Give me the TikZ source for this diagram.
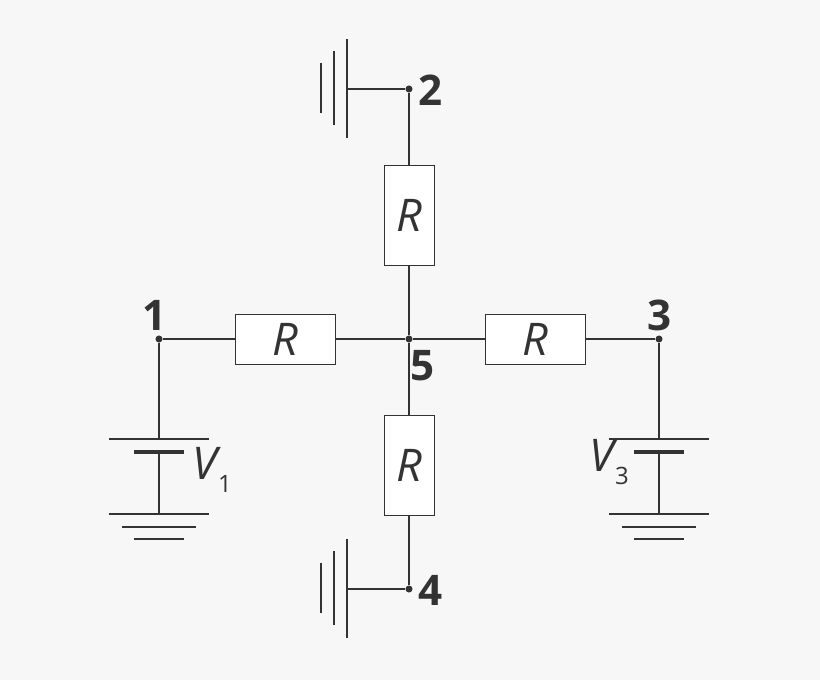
\documentclass[tikz,border=0pt]{standalone}
\usepackage{fontspec}
\setmainfont{Open Sans}
\usetikzlibrary{positioning}

\begin{document}
\begin{tikzpicture}[%
    x=0.025cm, y=-0.025cm,
    wire/.style={draw=black!80, line width=1.4pt},
    resnode/.style={rectangle, draw=black!80, fill=white, line width=0.6pt, inner sep=0pt, font=\fontsize{32}{32}\selectfont\itshape, text=black!80},
    dotnode/.style={circle, fill=black!80, inner sep=0pt, minimum size=5pt},
    numlabel/.style={font=\fontsize{30}{30}\selectfont\bfseries, text=black!80},
    plate/.style={draw=black!80, line width=1.4pt},
]
\fill[black!3] (0,0) rectangle (820,680);

% Junctions
\node[dotnode] (n5) at (409,339) {};
\node[dotnode] (n1) at (159,339) {};
\node[dotnode] (n3) at (659,339) {};
\node[dotnode] (n2) at (409,89) {};
\node[dotnode] (n4) at (409,589) {};

\node[numlabel] (l1) at (155,315) {1};
\node[numlabel] (l2) at (431,90) {2};
\node[numlabel] (l3) at (660,315) {3};
\node[numlabel] (l4) at (431,590) {4};
\node[numlabel] (l5) at (423,366) {5};

% Resistors
\node[resnode, minimum width=1.25cm, minimum height=2.5cm] (rtop) at (409,215) {R};
\node[resnode, minimum width=1.25cm, minimum height=2.5cm] (rbot) at (409,465) {R};
\node[resnode, minimum width=2.5cm, minimum height=1.25cm] (rleft) at (285,339) {R};
\node[resnode, minimum width=2.5cm, minimum height=1.25cm] (rright) at (535,339) {R};

\draw[wire] (n2) -- (rtop.north);
\draw[wire] (rtop.south) -- (n5);
\draw[wire] (n5) -- (rbot.north);
\draw[wire] (rbot.south) -- (n4);
\draw[wire] (n1) -- (rleft.west);
\draw[wire] (rleft.east) -- (n5);
\draw[wire] (n5) -- (rright.west);
\draw[wire] (rright.east) -- (n3);

% Grounds at 2 and 4
\coordinate (g2) at (347,89);
\coordinate (g4) at (347,589);
\draw[wire] (n2) -- (g2);
\draw[wire] (n4) -- (g4);
\foreach \g in {g2,g4}{
  \draw[plate] ([yshift=-49*0.025cm]\g) -- ([yshift=50*0.025cm]\g);
  \draw[plate] ([xshift=-13*0.025cm,yshift=-36*0.025cm]\g) -- ([xshift=-13*0.025cm,yshift=38*0.025cm]\g);
  \draw[plate] ([xshift=-26*0.025cm,yshift=-24*0.025cm]\g) -- ([xshift=-26*0.025cm,yshift=26*0.025cm]\g);
}

% Batteries
\coordinate (b1) at (159,439);
\coordinate (b3) at (659,439);
\coordinate (b1g) at (159,514);
\coordinate (b3g) at (659,514);
\draw[wire] (n1) -- (b1);
\draw[wire] (n3) -- (b3);
\foreach \b/\bg in {b1/b1g,b3/b3g}{
  \draw[plate] ([xshift=-50*0.025cm]\b) -- ([xshift=50*0.025cm]\b);
  \draw[draw=black!80, line width=3.5pt] ([xshift=-25*0.025cm,yshift=-13*0.025cm]\b) -- ([xshift=25*0.025cm,yshift=-13*0.025cm]\b);
  \draw[wire] ([yshift=-13*0.025cm]\b) -- (\bg);
  \draw[plate] ([xshift=-50*0.025cm]\bg) -- ([xshift=50*0.025cm]\bg);
  \draw[plate] ([xshift=-37*0.025cm,yshift=-13*0.025cm]\bg) -- ([xshift=37*0.025cm,yshift=-13*0.025cm]\bg);
  \draw[plate] ([xshift=-25*0.025cm,yshift=-25*0.025cm]\bg) -- ([xshift=25*0.025cm,yshift=-25*0.025cm]\bg);
}

\node[font=\fontsize{32}{32}\selectfont\itshape, text=black!80] (v1) at (212,470) {V\kern1pt{\fontsize{17}{17}\selectfont\upshape\raisebox{-9pt}{1}}};
\node[font=\fontsize{32}{32}\selectfont\itshape, text=black!80] (v3) at (609,462) {V\kern1pt{\fontsize{17}{17}\selectfont\upshape\raisebox{-9pt}{3}}};

\end{tikzpicture}
\end{document}
